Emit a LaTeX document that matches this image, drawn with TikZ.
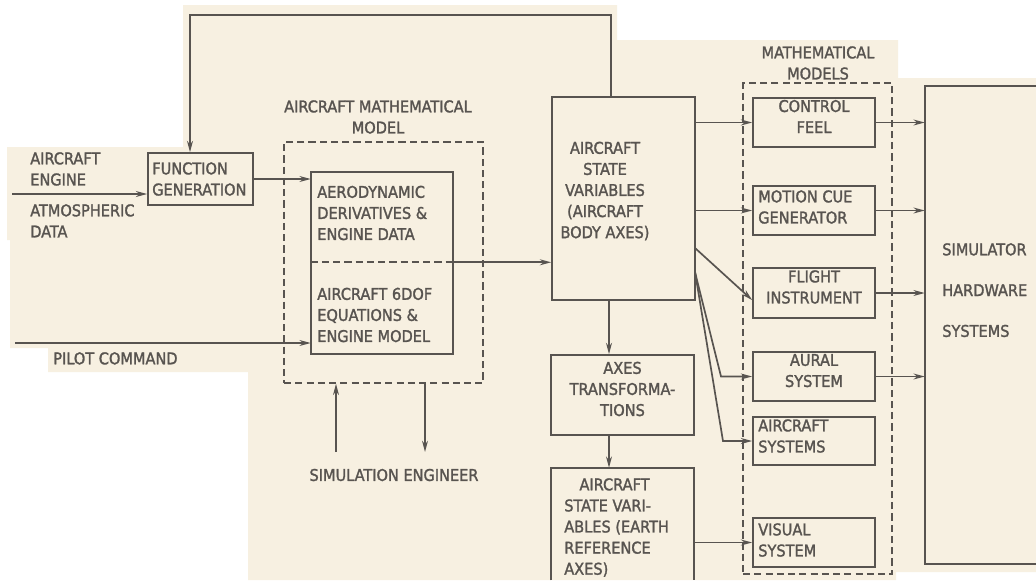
\documentclass[tikz,border=0pt]{standalone}
\usepackage{fontspec}
\setmainfont[FakeBold=1.6,AutoFakeBold=1.6]{DejaVu Sans Condensed}
\usetikzlibrary{arrows.meta,fit}
\definecolor{ink}{RGB}{88,84,80}
\definecolor{paper}{RGB}{247,240,225}

\begin{document}
\begin{tikzpicture}[x=0.025cm,y=-0.025cm,
  every node/.style={text=ink,font=\fontsize{11.5}{15}\selectfont\bfseries},
  line/.style={draw=ink,line width=1.2pt},
  box/.style={line,inner sep=0pt,align=center},
  ltext/.style={anchor=west,inner sep=0pt,align=left},
  dbox/.style={draw=ink,line width=1.1pt,dash pattern=on 5pt off 3pt,inner sep=0pt},
  arr/.style={line,-{Stealth[length=8pt,width=4.2pt]}}]

\useasboundingbox (0,0) rectangle (1036,580);

% Paper
\fill[white] (0,0) rectangle (1036,580);
\fill[paper] (183,5) -- (617,5) -- (617,40) -- (898,40) -- (898,78) -- (1036,78)
  -- (1036,572) -- (896,572) -- (896,580) -- (248,580) -- (248,372) -- (48,372)
  -- (48,348) -- (10,348) -- (10,240) -- (7,240) -- (7,147) -- (183,147) -- cycle;

% Dashed groups
\node[dbox, fit={(284,142) (483,383)}] (amm) {};
\node[dbox, fit={(743,83) (892,574)}] (mm) {};
\node[align=center] (ammlbl) at (378,117) {AIRCRAFT MATHEMATICAL\\MODEL};
\node[align=center] (mmlbl) at (818,63) {MATHEMATICAL\\MODELS};

% Left side
\node[box, fit={(148,153) (253,205)}] (fg) {};
\node[ltext] (fgl) at (152,179) {FUNCTION\\GENERATION};
\node[anchor=north west, inner sep=0pt, align=left] (engl) at (30,152) {AIRCRAFT\\ENGINE};
\node[anchor=north west, inner sep=0pt, align=left] (atml) at (30,204) {ATMOSPHERIC\\DATA};
\node[anchor=north west, inner sep=0pt] (pilotl) at (53,352) {PILOT COMMAND};
\node (engr) at (394,475) {SIMULATION ENGINEER};

% Aircraft model
\node[inner sep=0pt, fit={(311,172) (453,262)}] (aero) {};
\node[inner sep=0pt, fit={(311,276) (453,354)}] (dof) {};
\draw[line] (aero.north west) rectangle (dof.south east);
\draw[line, dash pattern=on 5pt off 3pt] (aero.south west) -- (aero.south east);
\node[ltext] (aerol) at (317,213) {AERODYNAMIC\\DERIVATIVES \&\\ENGINE DATA};
\node[ltext] (dofl) at (317,315) {AIRCRAFT 6DOF\\EQUATIONS \&\\ENGINE MODEL};

% State variables
\node[box, fit={(552,97) (695,300)}] (body) {};
\node[align=center] (bodyl) at (605,191) {AIRCRAFT\\STATE\\VARIABLES\\(AIRCRAFT\\BODY AXES)};
\node[box, fit={(551,355) (694,435)}] (axes) {AXES\\TRANSFORMA-\\TIONS};
\node[inner sep=0pt, fit={(551,468) (694,580)}] (earth) {};
\draw[line] (earth.south west) -- (earth.north west) -- (earth.north east) -- (earth.south east);
\node[anchor=north west, inner sep=0pt, align=left] (earthl) at (564,478)
  {\hspace*{0.38cm}AIRCRAFT\\STATE VARI-\\ABLES (EARTH\\REFERENCE\\AXES)};

% Mathematical models
\node[box, fit={(753,98) (875,147)}] (ctrl) {CONTROL\\FEEL};
\node[box, fit={(753,186) (875,235)}] (motion) {};
\node[box, fit={(753,268) (875,318)}] (flight) {FLIGHT\\INSTRUMENT};
\node[box, fit={(753,352) (875,401)}] (aural) {AURAL\\SYSTEM};
\node[box, fit={(753,417) (875,465)}] (acsys) {};
\node[box, fit={(753,518) (875,567)}] (visual) {};
\node[ltext] (motionl) at (758,207) {MOTION CUE\\GENERATOR};
\node[ltext] (acsysl) at (758,436) {AIRCRAFT\\SYSTEMS};
\node[ltext] (visuall) at (758,540) {VISUAL\\SYSTEM};

% Simulator hardware
\node[inner sep=0pt, fit={(925,86) (1036,564)}] (sim) {};
\draw[line] (sim.north east) -- (sim.north west) -- (sim.south west) -- (sim.south east);
\node[anchor=north west, inner sep=0pt, align=left] (siml) at (942,243)
  {SIMULATOR\\[14pt]HARDWARE\\[14pt]SYSTEMS};

% Connector points
\coordinate (fbR) at (611,15);
\coordinate (fbL) at (190,15);
\coordinate (inA) at (12,194);
\coordinate (inP) at (15,343);
\coordinate (engU) at (336,452);
\coordinate (engD) at (425,452);
\coordinate (colx) at (609,0);
\coordinate (fiS) at (695,248);
\coordinate (auS) at (695,272);
\coordinate (auK) at (721,0);
\coordinate (acK) at (723,0);

% Connectors
\draw[arr] (fbR |- body.north) -- (fbR) -- (fbL) -- (fbL |- fg.north);
\draw[arr] (inA) -- (inA -| fg.west);
\draw[arr] (fg.east) -- (fg.east -| aero.west);
\draw[arr] (inP) -- (inP -| dof.west);
\draw[arr] (aero.south east) -- (aero.south east -| body.west);
\draw[arr] (engU) -- (engU |- amm.south);
\draw[arr] (engD |- amm.south) -- (engD);
\draw[arr] (colx |- body.south) -- (colx |- axes.north);
\draw[arr] (colx |- axes.south) -- (colx |- earth.north);
\draw[arr] (ctrl.west -| body.east) -- (ctrl.west);
\draw[arr] (motion.west -| body.east) -- (motion.west);
\draw[arr] (fiS) -- ([yshift=-5]flight.west);
\draw[arr] (auS) -- (auK |- aural.west) -- (aural.west);
\draw[arr] (auS) -- (acK |- acsys.west) -- (acsys.west);
\draw[arr] (visual.west -| earth.east) -- (visual.west);
\draw[arr] (ctrl.east) -- (ctrl.east -| sim.west);
\draw[arr] (motion.east) -- (motion.east -| sim.west);
\draw[arr] (flight.east) -- (flight.east -| sim.west);
\draw[arr] (aural.east) -- (aural.east -| sim.west);

\end{tikzpicture}
\end{document}
